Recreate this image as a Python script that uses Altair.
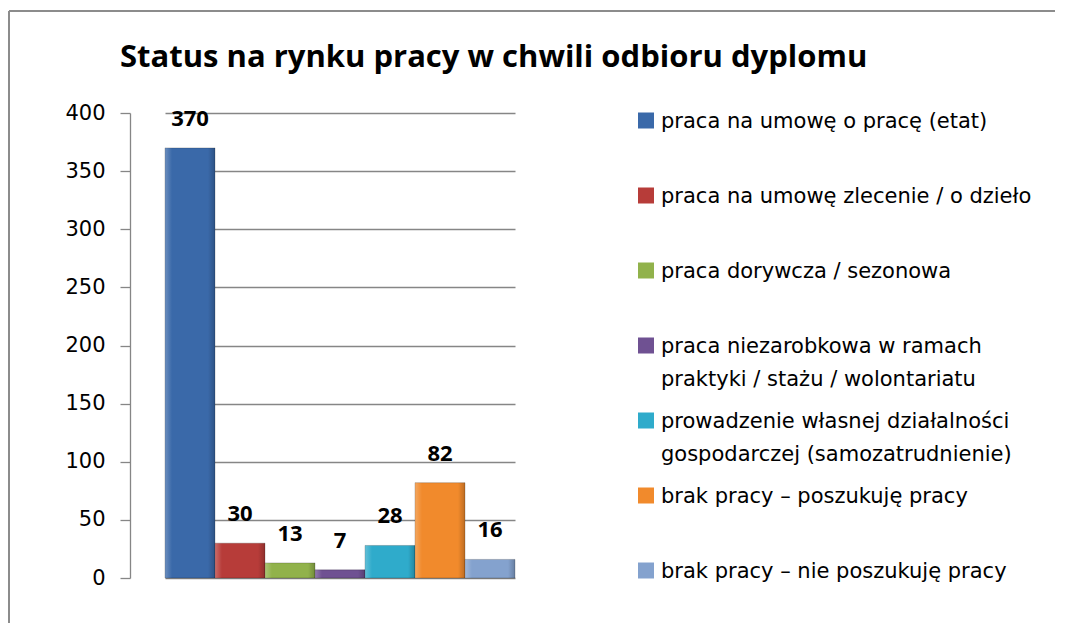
import altair as alt
import pandas as pd

categories = [
    "praca na umowę o pracę (etat)",
    "praca na umowę zlecenie / o dzieło",
    "praca dorywcza / sezonowa",
    "praca niezarobkowa w ramach praktyki / stażu / wolontariatu",
    "prowadzenie własnej działalności gospodarczej (samozatrudnienie)",
    "brak pracy – poszukuję pracy",
    "brak pracy – nie poszukuję pracy",
]
legend_labels = [
    "praca na umowę o pracę (etat)",
    "praca na umowę zlecenie / o dzieło",
    "praca dorywcza / sezonowa",
    "praca niezarobkowa w ramach\npraktyki / stażu / wolontariatu",
    "prowadzenie własnej działalności\ngospodarczej (samozatrudnienie)",
    "brak pracy – poszukuję pracy",
    "brak pracy – nie poszukuję pracy",
]
values = [370, 30, 13, 7, 28, 82, 16]
colors = ["#3A69A9", "#B73C39", "#91B24B", "#6F5192", "#2FABCB", "#F18A2C", "#84A2CE"]
y_ticks = [0, 50, 100, 150, 200, 250, 300, 350, 400]
title_text = "Status na rynku pracy w chwili odbioru dyplomu"

FONT = "Open Sans"
TEXT_FONT = "DejaVu Sans"
GRID = "#868686"

df = pd.DataFrame({"status": categories, "label": legend_labels, "count": values})
frame_df = pd.DataFrame({"k": [0]})

color_scale = alt.Scale(domain=categories, range=colors)

x_enc = alt.X(
    "status:N", sort=categories, axis=None,
    scale=alt.Scale(paddingInner=0, paddingOuter=0, range=[35, 385]),
)
y_enc = alt.Y(
    "count:Q",
    scale=alt.Scale(domain=[0, 400], nice=False),
    axis=alt.Axis(values=y_ticks, title=None, grid=True, domain=True, ticks=True),
)

base = alt.Chart(df)
bars = base.mark_bar(stroke="rgba(0,0,0,0.25)", strokeWidth=0.8).encode(
    x=x_enc, y=y_enc,
    color=alt.Color("status:N", scale=color_scale, legend=None),
)
shade = base.mark_bar(
    color=alt.Gradient(
        gradient="linear", x1=0, x2=1, y1=0, y2=0,
        stops=[
            alt.GradientStop(color="rgba(255,255,255,0.25)", offset=0),
            alt.GradientStop(color="rgba(255,255,255,0)", offset=0.14),
            alt.GradientStop(color="rgba(0,0,0,0)", offset=0.86),
            alt.GradientStop(color="rgba(0,0,0,0.22)", offset=1),
        ],
    )
).encode(x=x_enc, y=y_enc)
labels = base.mark_text(
    font=FONT, fontSize=22, fontWeight="bold", baseline="bottom", dy=-17, color="black"
).encode(x=x_enc, y=y_enc, text="count:Q")

frame_top = alt.Chart(frame_df).mark_rule(color="#8C8C8C", strokeWidth=2).encode(
    x=alt.value(-121), x2=alt.value(925), y=alt.value(-102)
)
frame_left = alt.Chart(frame_df).mark_rule(color="#8C8C8C", strokeWidth=2).encode(
    x=alt.value(-121), y=alt.value(-102), y2=alt.value(510)
)

bar_panel = alt.layer(frame_top, frame_left, bars, shade, labels).properties(width=472, height=465)

leg_y = alt.Y("status:N", sort=categories, axis=None, scale=alt.Scale(type="point", padding=0.1))
leg_sym = alt.Chart(df).mark_square(size=256, opacity=1).encode(
    x=alt.value(8), y=leg_y,
    color=alt.Color("status:N", scale=color_scale, legend=None),
)
leg_txt = alt.Chart(df).mark_text(
    align="left", baseline="alphabetic", dy=7, font=TEXT_FONT, fontSize=21,
    lineBreak="\n", lineHeight=33, color="black",
).encode(x=alt.value(23), y=leg_y, text="label:N")
legend_panel = alt.layer(leg_sym, leg_txt).properties(width=410, height=465)

chart = (
    alt.hconcat(bar_panel, legend_panel, spacing=36, bounds="flush")
    .resolve_scale(x="independent", y="independent")
    .properties(
        title=alt.Title(
            title_text, anchor="start", frame="bounds", offset=-88, dx=112,
            baseline="alphabetic", font=FONT, fontSize=31, fontWeight="bold", color="black",
        ),
        padding={"left": 0, "top": 2, "right": 0, "bottom": 0},
    )
    .configure_view(stroke=None)
    .configure_axis(
        labelFont=TEXT_FONT, labelFontSize=21, labelColor="black", labelPadding=15,
        tickColor=GRID, tickSize=10, tickWidth=1.3,
        domainColor=GRID, domainWidth=1.3,
        gridColor=GRID, gridWidth=1.3, gridOpacity=1,
    )
)

chart.save("out.html", embed_options={"renderer": "svg", "actions": False})
